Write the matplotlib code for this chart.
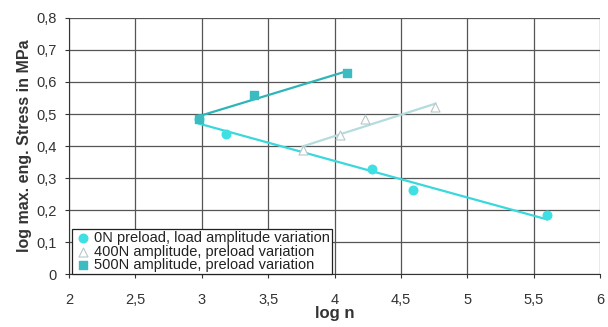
import numpy as np
import matplotlib
matplotlib.use("Agg")
import matplotlib.pyplot as plt
from matplotlib.ticker import FuncFormatter

plt.rcParams['font.family'] = ['Liberation Sans', 'DejaVu Sans']

# --- data (log n, log stress)
n0_x = [2.98, 3.18, 4.28, 4.59, 5.60]
n0_y = [0.485, 0.437, 0.328, 0.262, 0.183]

n400_x = [3.76, 4.04, 4.23, 4.76]
n400_y = [0.388, 0.434, 0.485, 0.522]

n500_x = [2.98, 3.39, 4.09]
n500_y = [0.484, 0.560, 0.628]

labels = ["0N preload, load amplitude variation",
          "400N amplitude, preload variation",
          "500N amplitude, preload variation"]

fig = plt.figure(figsize=(6.08, 3.27), dpi=100)
ax = fig.add_axes([0.1135, 0.162, 0.8735, 0.783])

# trend lines (linear fit like the Excel trendline)
for xs, ys, col in [(n0_x, n0_y, "#3ad8dc"), (n400_x, n400_y, "#b4dcdc"),
                    (n500_x, n500_y, "#2fb4b8")]:
    k, d = np.polyfit(xs, ys, 1)
    xx = np.array([min(xs), max(xs)])
    ax.plot(xx, k * xx + d, color=col, lw=1.6, zorder=2)

ax.scatter(n0_x, n0_y, marker="o", s=38, color="#3fe0e4", zorder=3, label=labels[0])
ax.scatter(n400_x, n400_y, marker="^", s=42, facecolor="white", edgecolor="#b8c8c8",
           lw=0.8, zorder=3, label=labels[1])
ax.scatter(n500_x, n500_y, marker="s", s=34, color="#3cbcc0", zorder=3, label=labels[2])

ax.set_xlim(2, 6)
ax.set_ylim(0, 0.8)
ax.set_xticks(np.arange(2, 6.01, 0.5))
ax.set_yticks(np.arange(0, 0.81, 0.1))
fmt = FuncFormatter(lambda v, p: ("%g" % round(v, 2)).replace(".", ","))
ax.xaxis.set_major_formatter(fmt)
ax.yaxis.set_major_formatter(fmt)
ax.tick_params(labelsize=10.5, colors="#333333", length=3, width=0.8)
ax.tick_params(axis="x", pad=11)
ax.tick_params(axis="y", pad=6)
ax.grid(True, color="#555555", lw=0.9)
ax.set_axisbelow(True)
for s in ["top", "right"]:
    ax.spines[s].set_visible(False)
for s in ["left", "bottom"]:
    ax.spines[s].set_color("#333333")

ax.set_xlabel("log n", fontsize=12, fontweight="bold", color="#333333", labelpad=-1)
ax.set_ylabel("log max. eng. Stress in MPa", fontsize=11.5, fontweight="bold",
              color="#333333", labelpad=3)

leg = ax.legend(loc="lower left", bbox_to_anchor=(0.005, 0.0), fontsize=10.5,
                frameon=True, fancybox=False, edgecolor="#222222", framealpha=1,
                labelspacing=-0.05, handletextpad=0.15, borderpad=0.15,
                handlelength=1.2, borderaxespad=0)
leg.get_frame().set_linewidth(0.9)
for t in leg.get_texts():
    t.set_color("#222222")

fig.savefig("out.png", dpi=100)
